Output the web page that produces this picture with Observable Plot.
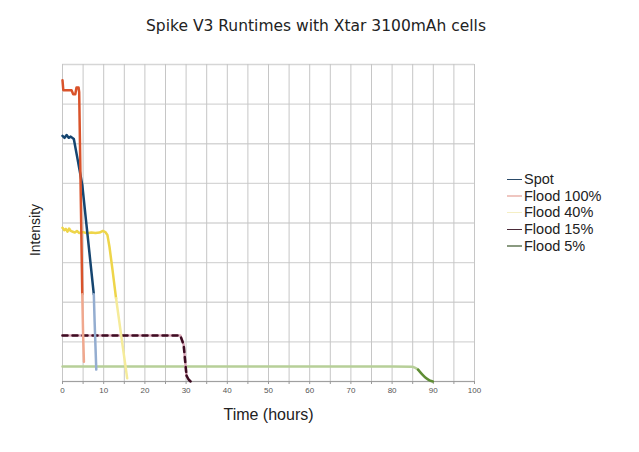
<!DOCTYPE html>
<html><head><meta charset="utf-8">
<script src="https://cdn.jsdelivr.net/npm/d3@7"></script>
<script src="https://cdn.jsdelivr.net/npm/@observablehq/plot@0.6"></script>
<style>
body{margin:0;background:#fff;}
#wrap{position:relative;width:639px;height:452px;overflow:hidden;}
#title{position:absolute;left:0;width:632px;top:17px;text-align:center;font:15.5px "DejaVu Sans";color:#222;}
#ylabel{position:absolute;left:35px;top:230px;transform:translate(-50%,-50%) rotate(-90deg);font:14px "Liberation Sans";color:#222;white-space:nowrap;}
#legend{position:absolute;left:507px;top:171px;font:14.5px "Liberation Sans";color:#222;}
#legend div{height:16.7px;line-height:16.7px;display:flex;align-items:center;white-space:nowrap;}
#legend span.sw{display:inline-block;width:15px;height:1.5px;margin-right:2px;}
</style></head>
<body><div id="wrap"><div id="title"></div><div id="ylabel"></div><div id="legend"></div></div>
<script>
const titleText = "Spike V3 Runtimes with Xtar 3100mAh cells";
const xLabel = "Time (hours)";
const yLabel = "Intensity";
const seriesNames = ["Spot", "Flood 100%", "Flood 40%", "Flood 15%", "Flood 5%"];
const legendColors = ["#2a4a68", "#efc6c0", "#f5efc4", "#4a2a38", "#8a9a80"];
const xTicks = [0, 10, 20, 30, 40, 50, 60, 70, 80, 90, 100];

// Spot
const spotX = [0, 0.5, 1, 1.5, 2, 2.75, 3.5, 4.8, 5.8, 6.8, 7.6];
const spotY = [6.2, 6.15, 6.22, 6.15, 6.18, 6.12, 5.7, 4.96, 3.97, 2.99, 2.2];
const spotTailX = [7.6, 7.8, 8.0, 8.2];
const spotTailY = [2.2, 1.5, 0.9, 0.3];
// Flood 100%
const f100X = [0, 0.2, 2.2, 2.6, 3.1, 3.4, 3.9, 4.05, 4.8];
const f100Y = [7.6, 7.35, 7.35, 7.25, 7.25, 7.42, 7.42, 7.3, 2.2];
const f100TailX = [4.8, 5.0, 5.2];
const f100TailY = [2.2, 1.2, 0.5];
// Flood 40%
const f40X = [0, 0.4, 0.8, 1.2, 1.6, 2, 2.5, 3, 3.5, 4, 5, 6, 7, 8, 9, 9.8, 10.4, 10.9, 11.4, 12.1, 13.0];
const f40Y = [3.88, 3.82, 3.85, 3.78, 3.86, 3.8, 3.78, 3.76, 3.8, 3.75, 3.77, 3.74, 3.76, 3.75, 3.76, 3.8, 3.77, 3.7, 3.4, 2.85, 2.1];
const f40TailX = [13.0, 13.8, 14.6, 15.7];
const f40TailY = [2.1, 1.5, 0.9, 0.08];
// Flood 15%
const f15X = [0, 10, 20, 28.6, 29.4, 30.1];
const f15Y = [1.16, 1.16, 1.16, 1.16, 0.93, 0.15];
const f15TailX = [30.1, 30.6, 31.1];
const f15TailY = [0.15, 0.05, 0];
// Flood 5%
const f5X = [0, 20, 40, 60, 80, 84.8, 85.5, 86.3];
const f5Y = [0.38, 0.38, 0.38, 0.38, 0.38, 0.37, 0.35, 0.3];
const f5TailX = [86.3, 87.3, 88.3, 89.2, 89.9];
const f5TailY = [0.3, 0.18, 0.08, 0.02, 0];

const pts = (xs, ys) => xs.map((x, i) => ({x, y: ys[i]}));

const plot = Plot.plot({
  width: 639, height: 452,
  marginLeft: 62, marginRight: 165, marginTop: 64, marginBottom: 71,
  x: {domain: [0, 100]},
  y: {domain: [0, 8]},
  style: {background: "transparent", fontFamily: "Liberation Sans"},
  marks: [
    Plot.gridY({interval: 1, stroke: "#d6d6d6", strokeOpacity: 1, strokeWidth: 1.4}),
    Plot.gridX({interval: 5, stroke: "#c6c6c6", strokeOpacity: 1, strokeWidth: 1}),
    Plot.ruleY([0], {stroke: "#a0a0a0"}),
    Plot.axisX({interval: 5, tickSize: 3, stroke: "#999", text: null, label: null}),
    Plot.axisX({ticks: xTicks, tickSize: 0, tickPadding: 6, fontSize: 8, fill: "#555", label: null}),
    Plot.axisY({ticks: [], label: null}),
    Plot.text([xLabel], {frameAnchor: "bottom", dy: 38, fontSize: 16, fill: "#222"}),
    // Flood 5%
    Plot.line(pts(f5X, f5Y), {x: "x", y: "y", stroke: "#b7cf98", strokeWidth: 2.5, curve: "monotone-x"}),
    Plot.line(pts(f5TailX, f5TailY), {x: "x", y: "y", stroke: "#5f8d35", strokeWidth: 2.5, curve: "monotone-x"}),
    // Flood 15%
    Plot.line(pts(f15X, f15Y), {x: "x", y: "y", stroke: "#d9a7b7", strokeWidth: 2.5}),
    Plot.line(pts(f15X, f15Y), {x: "x", y: "y", stroke: "#3d0c22", strokeWidth: 2.5, strokeDasharray: "5,5"}),
    Plot.line(pts(f15TailX, f15TailY), {x: "x", y: "y", stroke: "#3d0c22", strokeWidth: 2.5}),
    // Flood 40%
    Plot.line(pts(f40X, f40Y), {x: "x", y: "y", stroke: "#eed54a", strokeWidth: 2.5}),
    Plot.line(pts(f40TailX, f40TailY), {x: "x", y: "y", stroke: "#f5eb9a", strokeWidth: 2.5}),
    // Spot
    Plot.line(pts(spotX, spotY), {x: "x", y: "y", stroke: "#154570", strokeWidth: 2.5}),
    Plot.line(pts(spotTailX, spotTailY), {x: "x", y: "y", stroke: "#94add0", strokeWidth: 2.5}),
    // Flood 100%
    Plot.line(pts(f100X, f100Y), {x: "x", y: "y", stroke: "#d9532b", strokeWidth: 2.5}),
    Plot.line(pts(f100TailX, f100TailY), {x: "x", y: "y", stroke: "#f0a88e", strokeWidth: 2.5})
  ]
});
plot.style.position = "absolute";
plot.style.left = "0";
plot.style.top = "0";
document.getElementById("wrap").prepend(plot);
document.getElementById("title").textContent = titleText;
document.getElementById("ylabel").textContent = yLabel;
const leg = document.getElementById("legend");
seriesNames.forEach((n, i) => {
  const d = document.createElement("div");
  const s = document.createElement("span");
  s.className = "sw";
  s.style.background = legendColors[i];
  d.appendChild(s);
  d.appendChild(document.createTextNode(n));
  leg.appendChild(d);
});
</script></body></html>
